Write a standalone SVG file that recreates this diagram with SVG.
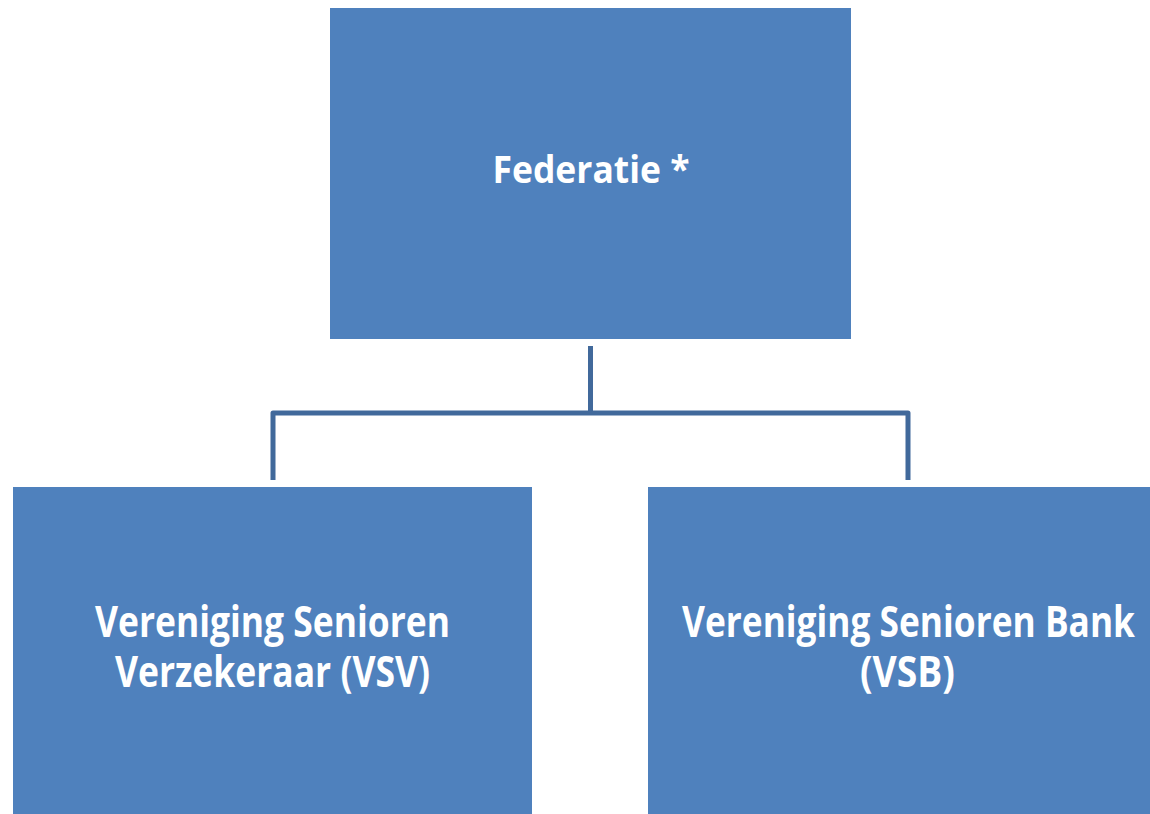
<svg xmlns="http://www.w3.org/2000/svg" width="1150" height="814" viewBox="0 0 1150 814">
<style>
.box{fill:#4f81bd;}
.lbl{fill:#ffffff;font-family:"Open Sans","Liberation Sans",sans-serif;font-weight:bold;text-anchor:middle;}
.conn{fill:none;stroke:#41699b;stroke-width:5;stroke-linejoin:round;stroke-linecap:butt;}
</style>
<rect width="1150" height="814" fill="#ffffff"/>
<g id="connectors">
<path class="conn" d="M590.5,346 V413"/>
<path class="conn" d="M273,480 V413 H908 V480"/>
</g>
<g id="node-federatie">
<rect class="box" x="330" y="8" width="521" height="331"/>
<text class="lbl" x="591" y="183" font-size="38" textLength="197" lengthAdjust="spacingAndGlyphs">Federatie *</text>
</g>
<g id="node-vsv">
<rect class="box" x="13" y="487" width="519" height="327"/>
<text class="lbl" x="272.5" y="637" font-size="43" textLength="355" lengthAdjust="spacingAndGlyphs">Vereniging Senioren</text>
<text class="lbl" x="272.5" y="687" font-size="43" textLength="315" lengthAdjust="spacingAndGlyphs">Verzekeraar (VSV)</text>
</g>
<g id="node-vsb">
<rect class="box" x="648" y="487" width="521" height="327"/>
<text class="lbl" x="908.5" y="637" font-size="43" textLength="453" lengthAdjust="spacingAndGlyphs">Vereniging Senioren Bank</text>
<text class="lbl" x="907.5" y="687" font-size="43" textLength="95" lengthAdjust="spacingAndGlyphs">(VSB)</text>
</g>
</svg>
